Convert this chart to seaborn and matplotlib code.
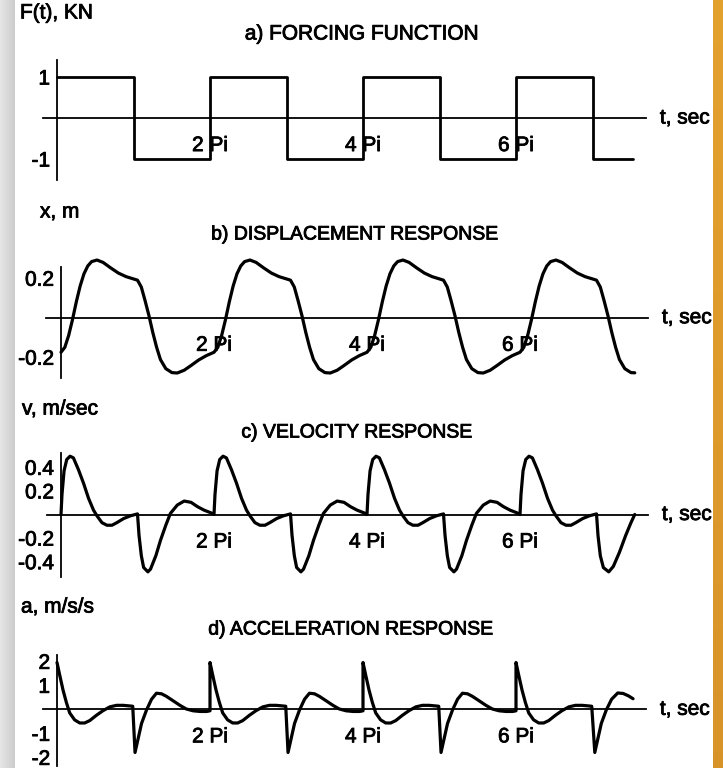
import numpy as np
import pandas as pd
import matplotlib
matplotlib.use("Agg")
import matplotlib.pyplot as plt
import matplotlib.patheffects as pe
import seaborn as sns

# ---------------- data (time in units of pi) ----------------
force_t_pi = [0, 1, 1, 2, 2, 3, 3, 4, 4, 5, 5, 6, 6, 7, 7, 7.53]
force_val = [1, 1, -1, -1, 1, 1, -1, -1, 1, 1, -1, -1, 1, 1, -1, -1]

disp_t_pi = [
    0.00, 0.05, 0.10, 0.15, 0.20, 0.25, 0.30, 0.35, 0.40, 0.47, 0.55, 0.65, 0.75, 0.85, 0.95,
    1.00, 1.05, 1.10, 1.15, 1.20, 1.25, 1.30, 1.37, 1.45, 1.52, 1.61, 1.70, 1.80, 1.90,
    2.00, 2.05, 2.10, 2.15, 2.20, 2.25, 2.30, 2.35, 2.40, 2.47, 2.55, 2.65, 2.75, 2.85, 2.95,
    3.00, 3.05, 3.10, 3.15, 3.20, 3.25, 3.30, 3.37, 3.45, 3.52, 3.61, 3.70, 3.80, 3.90,
    4.00, 4.05, 4.10, 4.15, 4.20, 4.25, 4.30, 4.35, 4.40, 4.47, 4.55, 4.65, 4.75, 4.85, 4.95,
    5.00, 5.05, 5.10, 5.15, 5.20, 5.25, 5.30, 5.37, 5.45, 5.52, 5.61, 5.70, 5.80, 5.90,
    6.00, 6.05, 6.10, 6.15, 6.20, 6.25, 6.30, 6.35, 6.40, 6.47, 6.55, 6.65, 6.75, 6.85, 6.95,
    7.00, 7.05, 7.10, 7.15, 7.20, 7.25, 7.30, 7.37, 7.45, 7.50]
disp_val = [
    -0.175, -0.150, -0.090, -0.010, 0.080, 0.160, 0.222, 0.262, 0.284, 0.292, 0.280, 0.252, 0.226, 0.208, 0.196,
    0.190, 0.155, 0.085, 0.010, -0.075, -0.150, -0.212, -0.258, -0.278, -0.280, -0.266, -0.242, -0.214, -0.192,
    -0.175, -0.150, -0.090, -0.010, 0.080, 0.160, 0.222, 0.262, 0.284, 0.292, 0.280, 0.252, 0.226, 0.208, 0.196,
    0.190, 0.155, 0.085, 0.010, -0.075, -0.150, -0.212, -0.258, -0.278, -0.280, -0.266, -0.242, -0.214, -0.192,
    -0.175, -0.150, -0.090, -0.010, 0.080, 0.160, 0.222, 0.262, 0.284, 0.292, 0.280, 0.252, 0.226, 0.208, 0.196,
    0.190, 0.155, 0.085, 0.010, -0.075, -0.150, -0.212, -0.258, -0.278, -0.280, -0.266, -0.242, -0.214, -0.192,
    -0.175, -0.150, -0.090, -0.010, 0.080, 0.160, 0.222, 0.262, 0.284, 0.292, 0.280, 0.252, 0.226, 0.208, 0.196,
    0.190, 0.155, 0.085, 0.010, -0.075, -0.150, -0.212, -0.258, -0.278, -0.279]

vel_t_pi = [
    0.000, 0.013, 0.040, 0.075, 0.118, 0.162, 0.228, 0.294, 0.360, 0.425, 0.470, 0.535, 0.600, 0.667, 0.730, 0.820, 0.908, 0.970,
    1.000, 1.020, 1.050, 1.080, 1.136, 1.170, 1.240, 1.300, 1.370, 1.430, 1.520, 1.610, 1.700, 1.785, 1.870, 1.960,
    2.000, 2.013, 2.040, 2.075, 2.118, 2.162, 2.228, 2.294, 2.360, 2.425, 2.470, 2.535, 2.600, 2.667, 2.730, 2.820, 2.908, 2.970,
    3.000, 3.020, 3.050, 3.080, 3.136, 3.170, 3.240, 3.300, 3.370, 3.430, 3.520, 3.610, 3.700, 3.785, 3.870, 3.960,
    4.000, 4.013, 4.040, 4.075, 4.118, 4.162, 4.228, 4.294, 4.360, 4.425, 4.470, 4.535, 4.600, 4.667, 4.730, 4.820, 4.908, 4.970,
    5.000, 5.020, 5.050, 5.080, 5.136, 5.170, 5.240, 5.300, 5.370, 5.430, 5.520, 5.610, 5.700, 5.785, 5.870, 5.960,
    6.000, 6.013, 6.040, 6.075, 6.118, 6.162, 6.228, 6.294, 6.360, 6.425, 6.470, 6.535, 6.600, 6.667, 6.730, 6.820, 6.908, 6.970,
    7.000, 7.020, 7.050, 7.090, 7.160, 7.220, 7.300, 7.380, 7.450, 7.500]
vel_val = [
    0.000, 0.170, 0.370, 0.466, 0.494, 0.480, 0.380, 0.266, 0.137, 0.037, -0.011, -0.069, -0.091, -0.091, -0.069, -0.034, -0.011, 0.000,
    0.005, -0.177, -0.349, -0.449, -0.486, -0.463, -0.349, -0.220, -0.091, 0.009, 0.080, 0.114, 0.103, 0.066, 0.037, 0.014,
    0.000, 0.170, 0.370, 0.466, 0.494, 0.480, 0.380, 0.266, 0.137, 0.037, -0.011, -0.069, -0.091, -0.091, -0.069, -0.034, -0.011, 0.000,
    0.005, -0.177, -0.349, -0.449, -0.486, -0.463, -0.349, -0.220, -0.091, 0.009, 0.080, 0.114, 0.103, 0.066, 0.037, 0.014,
    0.000, 0.170, 0.370, 0.466, 0.494, 0.480, 0.380, 0.266, 0.137, 0.037, -0.011, -0.069, -0.091, -0.091, -0.069, -0.034, -0.011, 0.000,
    0.005, -0.177, -0.349, -0.449, -0.486, -0.463, -0.349, -0.220, -0.091, 0.009, 0.080, 0.114, 0.103, 0.066, 0.037, 0.014,
    0.000, 0.170, 0.370, 0.466, 0.494, 0.480, 0.380, 0.266, 0.137, 0.037, -0.011, -0.069, -0.091, -0.091, -0.069, -0.034, -0.011, 0.000,
    0.005, -0.180, -0.350, -0.450, -0.486, -0.440, -0.320, -0.180, -0.070, 0.000]

acc_t_pi = [
    0.000, 0.035, 0.079, 0.122, 0.166, 0.230, 0.297, 0.362, 0.428, 0.515, 0.600, 0.690, 0.777, 0.865, 0.950, 0.990,
    1.020, 1.060, 1.105, 1.170, 1.236, 1.300, 1.367, 1.430, 1.520, 1.607, 1.690, 1.780, 1.870, 1.956, 2.000,
    2.000, 2.035, 2.079, 2.122, 2.166, 2.230, 2.297, 2.362, 2.428, 2.515, 2.600, 2.690, 2.777, 2.865, 2.950, 2.990,
    3.020, 3.060, 3.105, 3.170, 3.236, 3.300, 3.367, 3.430, 3.520, 3.607, 3.690, 3.780, 3.870, 3.956, 4.000,
    4.000, 4.035, 4.079, 4.122, 4.166, 4.230, 4.297, 4.362, 4.428, 4.515, 4.600, 4.690, 4.777, 4.865, 4.950, 4.990,
    5.020, 5.060, 5.105, 5.170, 5.236, 5.300, 5.367, 5.430, 5.520, 5.607, 5.690, 5.780, 5.870, 5.956, 6.000,
    6.000, 6.035, 6.079, 6.122, 6.166, 6.230, 6.297, 6.362, 6.428, 6.515, 6.600, 6.690, 6.777, 6.865, 6.950, 6.990,
    7.030, 7.070, 7.115, 7.180, 7.250, 7.330, 7.400, 7.470, 7.530]
acc_val = [
    1.95, 1.43, 0.80, 0.29, -0.15, -0.44, -0.57, -0.57, -0.47, -0.25, -0.06, 0.10, 0.165, 0.165, 0.14, 0.127,
    -1.80, -1.23, -0.59, -0.03, 0.42, 0.67, 0.645, 0.54, 0.35, 0.165, 0.013, -0.063, -0.09, -0.09, -0.063,
    1.95, 1.43, 0.80, 0.29, -0.15, -0.44, -0.57, -0.57, -0.47, -0.25, -0.06, 0.10, 0.165, 0.165, 0.14, 0.127,
    -1.80, -1.23, -0.59, -0.03, 0.42, 0.67, 0.645, 0.54, 0.35, 0.165, 0.013, -0.063, -0.09, -0.09, -0.063,
    1.95, 1.43, 0.80, 0.29, -0.15, -0.44, -0.57, -0.57, -0.47, -0.25, -0.06, 0.10, 0.165, 0.165, 0.14, 0.127,
    -1.80, -1.23, -0.59, -0.03, 0.42, 0.67, 0.645, 0.54, 0.35, 0.165, 0.013, -0.063, -0.09, -0.09, -0.063,
    1.95, 1.43, 0.80, 0.29, -0.15, -0.44, -0.57, -0.57, -0.47, -0.25, -0.06, 0.10, 0.165, 0.165, 0.14, 0.127,
    -1.80, -1.23, -0.59, -0.03, 0.42, 0.68, 0.66, 0.56, 0.44]

x_tick_pi = [2, 4, 6]
x_tick_labels = ["2 Pi", "4 Pi", "6 Pi"]

titles = ["a) FORCING FUNCTION", "b) DISPLACEMENT RESPONSE",
          "c) VELOCITY RESPONSE", "d) ACCELERATION RESPONSE"]
y_labels = ["F(t), KN", "x, m", "v, m/sec", "a, m/s/s"]
y_ticks = [[1, -1], [0.2, -0.2], [0.4, 0.2, -0.2, -0.4], [2, 1, -1, -2]]
y_tick_labels = [["1", "-1"], ["0.2", "-0.2"], ["0.4", "0.2", "-0.2", "-0.4"], ["2", "1", "-1", "-2"]]
x_label = "t, sec"

# ---------------- style ----------------
sns.set_theme(style="white")
plt.rcParams["font.family"] = ["Liberation Sans", "DejaVu Sans"]
plt.rcParams["text.color"] = "black"
plt.rcParams["xtick.color"] = "black"
plt.rcParams["ytick.color"] = "black"
FS = 15
BOLD = [pe.withStroke(linewidth=0.6, foreground="black")]

W, H = 723, 768
fig = plt.figure(figsize=(W / 100, H / 100), dpi=100)
fig.patch.set_facecolor("white")

# decorative borders of the scanned page
gl = fig.add_axes([0, 0, 15 / W, 1])
gl.imshow(np.linspace(0.90, 0.80, 50).reshape(1, -1), cmap="gray", vmin=0, vmax=1,
          aspect="auto", extent=[0, 1, 0, 1])
gl.axis("off")
gr = fig.add_axes([713 / W, 0, 10 / W, 1])
orange = np.zeros((50, 1, 3))
orange[:, 0, 0] = np.linspace(0.85, 0.89, 50)
orange[:, 0, 1] = np.linspace(0.58, 0.63, 50)
orange[:, 0, 2] = np.linspace(0.16, 0.18, 50)
gr.imshow(orange, aspect="auto", extent=[0, 1, 0, 1], origin="lower")
gr.axis("off")

PPI = 76.5  # pixels per pi on the x axis
# (origin px, left px, right px, top px, bottom px, zero px, px per unit)
layout = [
    (57, 43, 646, 60, 180, 118.0, 41.0),
    (61, 46, 648, 267, 378, 317.7, 197.5),
    (61, 47, 648, 453, 577, 514.5, 118.0),
    (57, 43, 646, 655, 766, 709.3, 24.0),
]
series = [(force_t_pi, force_val), (disp_t_pi, disp_val),
          (vel_t_pi, vel_val), (acc_t_pi, acc_val)]
title_pos = [(362, 34), (355, 235), (357, 433), (351, 630)]
title_fs = [15, 14, 14, 14]
ylab_pos = [(20, 13), (40, 212), (22, 409), (21, 607)]

for i, (x0, L, R, top, bot, zero, ppu) in enumerate(layout):
    ax = fig.add_axes([L / W, 1 - bot / H, (R - L) / W, (bot - top) / H])
    ax.set_facecolor("none")
    t_pi, v = series[i]
    df = pd.DataFrame({"t": np.array(t_pi) * np.pi, "v": v})
    sns.lineplot(data=df, x="t", y="v", ax=ax, estimator=None, sort=False,
                 color="black", lw=2.3 if i else 2.0, clip_on=False)
    ax.set_xlim((L - x0) / PPI * np.pi, (R - x0) / PPI * np.pi)
    ax.set_ylim(-(bot - zero) / ppu, (zero - top) / ppu)
    for s in ["top", "right"]:
        ax.spines[s].set_visible(False)
    ax.spines["left"].set_position(("data", 0))
    ax.spines["bottom"].set_position(("data", 0))
    for s in ["left", "bottom"]:
        ax.spines[s].set_color("black")
        ax.spines[s].set_linewidth(1.3)
    ax.set_xticks(np.array(x_tick_pi) * np.pi)
    ax.set_xticklabels(x_tick_labels)
    ax.set_yticks(y_ticks[i])
    ax.set_yticklabels(y_tick_labels[i])
    ax.tick_params(axis="x", length=0, pad=13, labelsize=FS, colors="black")
    ax.tick_params(axis="y", direction="in", length=3, width=1, pad=5,
                   labelsize=FS, colors="black")
    for lab in ax.get_xticklabels() + ax.get_yticklabels():
        lab.set_path_effects(BOLD)
    ax.set_xlabel("")
    ax.set_ylabel("")
    ax.annotate(x_label, xy=(1, 0), xycoords=ax.get_yaxis_transform(),
                xytext=(10, 0), textcoords="offset points",
                ha="left", va="center", fontsize=FS, annotation_clip=False,
                path_effects=BOLD)
    tx, ty = title_pos[i]
    fig.text(tx / W, 1 - ty / H, titles[i], ha="center", va="center",
             fontsize=title_fs[i], path_effects=BOLD)
    lx, ly = ylab_pos[i]
    fig.text(lx / W, 1 - ly / H, y_labels[i], ha="left", va="center",
             fontsize=FS, path_effects=BOLD)

fig.savefig("out.png", dpi=100)
